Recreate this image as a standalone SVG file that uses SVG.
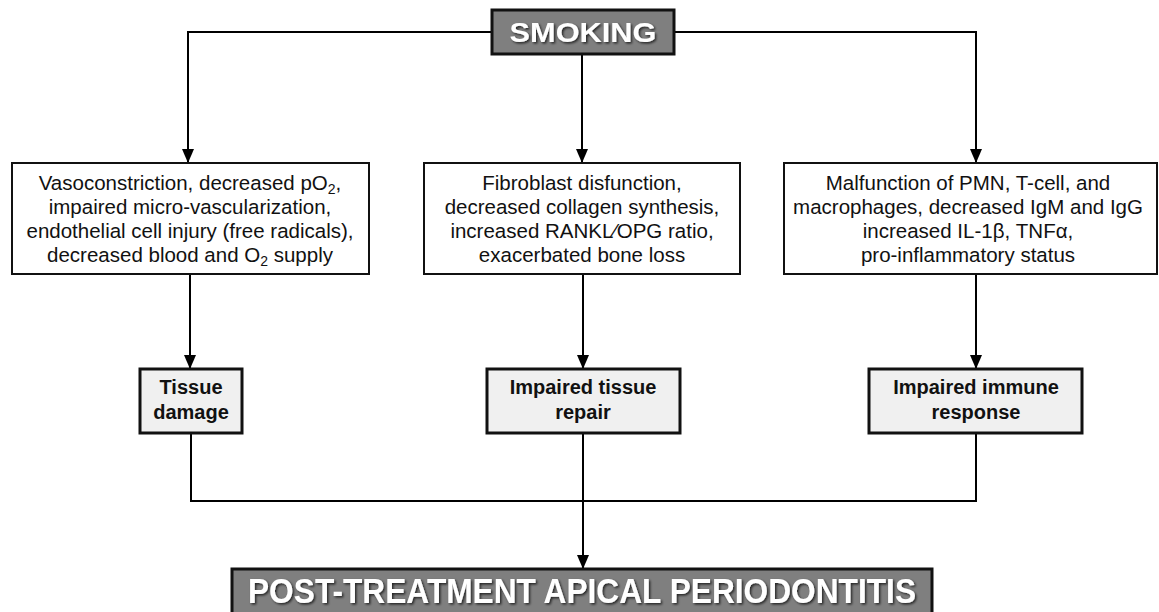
<svg xmlns="http://www.w3.org/2000/svg" width="1159" height="612" viewBox="0 0 1159 612">
<defs>
<marker id="ah" markerWidth="14" markerHeight="14" refX="13" refY="7" orient="auto" markerUnits="userSpaceOnUse">
<path d="M0,1 L14,7 L0,13 Z" fill="#000"/>
</marker>
<filter id="sh" x="-10%" y="-30%" width="120%" height="160%">
<feDropShadow dx="1.5" dy="1.5" stdDeviation="1" flood-color="#000" flood-opacity="0.7"/>
</filter>
</defs>
<style>
.dark{fill:#7f7f7f;stroke:#111;stroke-width:3}
.white{fill:#fff;stroke:#111;stroke-width:2}
.light{fill:#f0f0f0;stroke:#111;stroke-width:3}
.t{font-family:"Liberation Sans",Arial,sans-serif;font-size:20.5px;fill:#111;text-anchor:middle}
.b{font-family:"Liberation Sans",Arial,sans-serif;font-size:20px;font-weight:bold;fill:#111;text-anchor:middle}
.h{font-family:"Liberation Sans",Arial,sans-serif;font-weight:bold;fill:#fff;text-anchor:middle;filter:url(#sh)}
.c{fill:none;stroke:#000;stroke-width:2}
</style>
<g id="connectors">
<path class="c" d="M492,32 H188 V162" marker-end="url(#ah)"/>
<path class="c" d="M674,32 H976 V162" marker-end="url(#ah)"/>
<path class="c" d="M582,54 V162" marker-end="url(#ah)"/>
<path class="c" d="M190,274 V368" marker-end="url(#ah)"/>
<path class="c" d="M583,274 V368" marker-end="url(#ah)"/>
<path class="c" d="M976,274 V368" marker-end="url(#ah)"/>
<path class="c" d="M191,433 V501 H976 V433"/>
<path class="c" d="M583,433 V568" marker-end="url(#ah)"/>
</g>
<g id="smoking">
<rect class="dark" x="492" y="10" width="182" height="44"/>
<text class="h" x="583" y="42" font-size="28" textLength="147" lengthAdjust="spacingAndGlyphs">SMOKING</text>
</g>
<g id="vaso">
<rect class="white" x="12" y="163" width="357" height="111"/>
<text class="t" x="190" y="190">Vasoconstriction, decreased pO<tspan font-size="14" dy="4">2</tspan><tspan dy="-4">,</tspan></text>
<text class="t" x="190" y="214">impaired micro-vascularization,</text>
<text class="t" x="190" y="238">endothelial cell injury (free radicals),</text>
<text class="t" x="190" y="262">decreased blood and O<tspan font-size="14" dy="4">2</tspan><tspan dy="-4"> supply</tspan></text>
</g>
<g id="fibro">
<rect class="white" x="424" y="163" width="316" height="111"/>
<text class="t" x="582" y="190">Fibroblast disfunction,</text>
<text class="t" x="582" y="214">decreased collagen synthesis,</text>
<text class="t" x="582" y="238">increased RANKL∕OPG ratio,</text>
<text class="t" x="582" y="262">exacerbated bone loss</text>
</g>
<g id="immune">
<rect class="white" x="784" y="163" width="373" height="111"/>
<text class="t" x="968" y="190">Malfunction of PMN, T-cell, and</text>
<text class="t" x="968" y="214">macrophages, decreased IgM and IgG</text>
<text class="t" x="968" y="238">increased  IL-1β, TNFα,</text>
<text class="t" x="968" y="262">pro-inflammatory status</text>
</g>
<g id="tissue-damage">
<rect class="light" x="140" y="369" width="102" height="64"/>
<text class="b" x="191" y="394">Tissue</text>
<text class="b" x="191" y="419">damage</text>
</g>
<g id="tissue-repair">
<rect class="light" x="487" y="369" width="193" height="64"/>
<text class="b" x="583" y="394">Impaired tissue</text>
<text class="b" x="583" y="419">repair</text>
</g>
<g id="immune-response">
<rect class="light" x="869" y="369" width="213" height="64"/>
<text class="b" x="976" y="394">Impaired immune</text>
<text class="b" x="976" y="419">response</text>
</g>
<g id="pap">
<rect class="dark" x="232" y="569" width="700" height="48"/>
<text class="h" x="582" y="603" font-size="35" textLength="668" lengthAdjust="spacingAndGlyphs">POST-TREATMENT APICAL PERIODONTITIS</text>
</g>
</svg>
